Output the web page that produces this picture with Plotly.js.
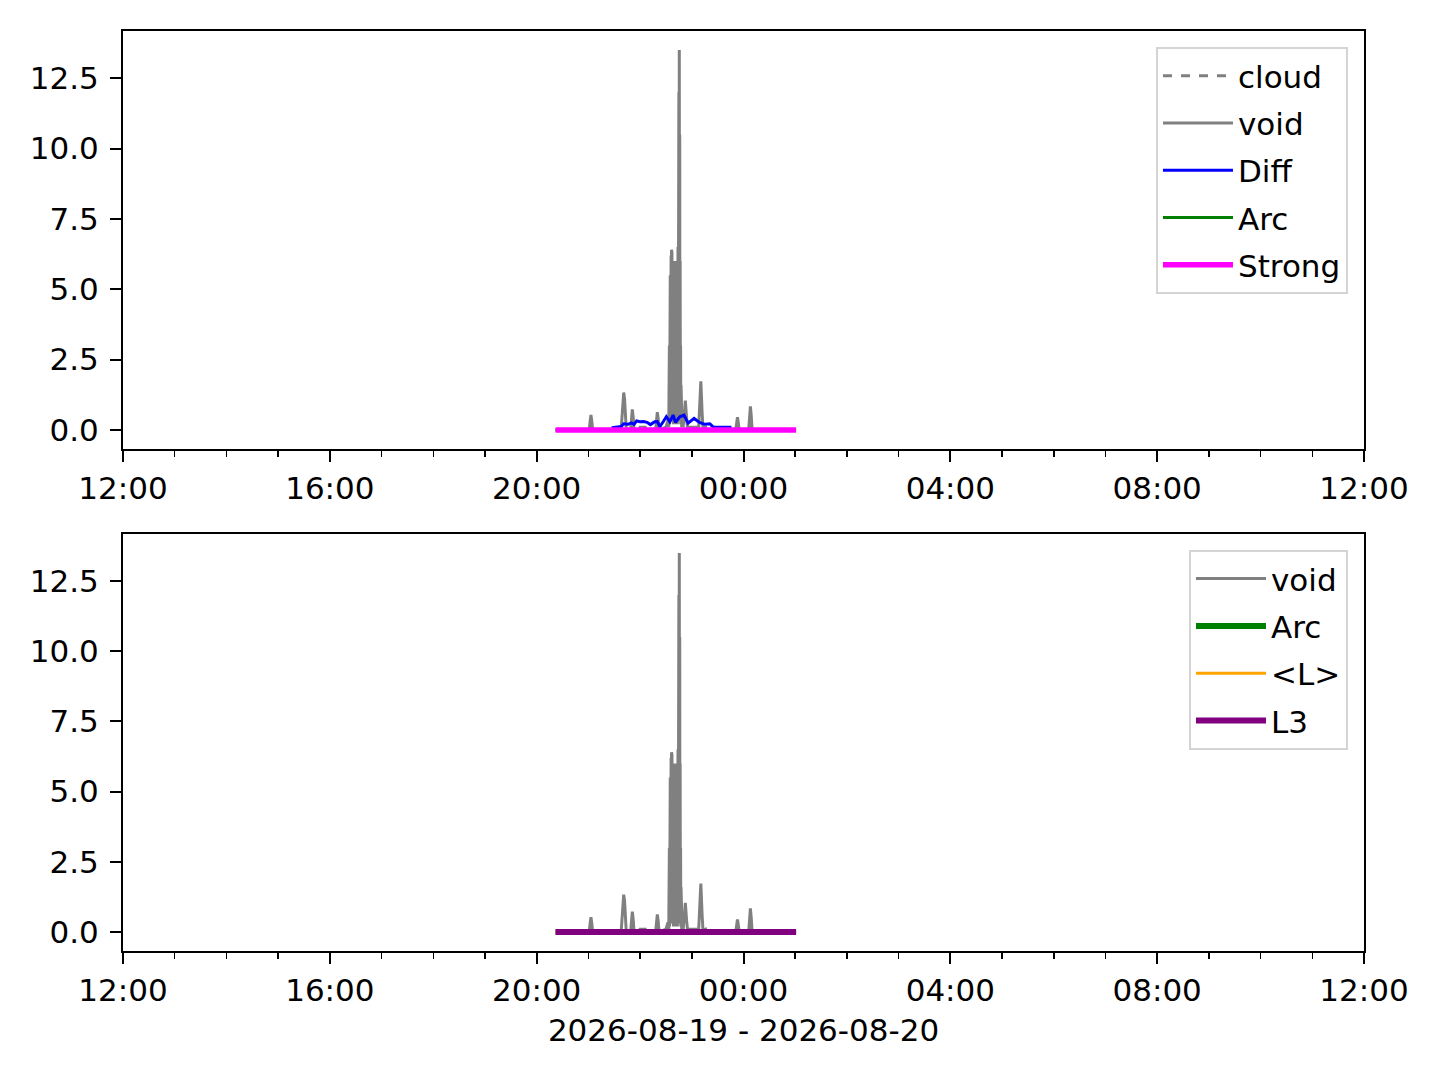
<!DOCTYPE html>
<html>
<head>
<meta charset="utf-8">
<script src="https://cdn.plot.ly/plotly-3.0.1.min.js"></script>
<style>html,body{margin:0;padding:0;background:#fff;}#chart{width:1440px;height:1080px;}</style>
</head>
<body>
<div id="chart"></div>
<script>
// ---- data ----
const spanTimes = ["2026-08-19 20:22", "2026-08-20 01:01"];
const cloudValues = [0, 0];
const arcValues = [0, 0];
const strongValues = [0, 0];
const meanLValues = [0, 0];
const l3Values = [0, 0];

const voidTimes = [
  "2026-08-19 20:22","2026-08-19 21:01","2026-08-19 21:02","2026-08-19 21:03","2026-08-19 21:04","2026-08-19 21:05",
  "2026-08-19 21:38","2026-08-19 21:39","2026-08-19 21:40","2026-08-19 21:41","2026-08-19 21:42","2026-08-19 21:43","2026-08-19 21:44",
  "2026-08-19 21:49","2026-08-19 21:50","2026-08-19 21:51","2026-08-19 21:52","2026-08-19 21:53",
  "2026-08-19 21:59","2026-08-19 22:00","2026-08-19 22:06","2026-08-19 22:07",
  "2026-08-19 22:18","2026-08-19 22:19","2026-08-19 22:20","2026-08-19 22:21","2026-08-19 22:22",
  "2026-08-19 22:26","2026-08-19 22:30","2026-08-19 22:32",
  "2026-08-19 22:33:00","2026-08-19 22:33:15","2026-08-19 22:33:30","2026-08-19 22:33:45",
  "2026-08-19 22:34:00","2026-08-19 22:34:15","2026-08-19 22:34:30","2026-08-19 22:34:45",
  "2026-08-19 22:35:00","2026-08-19 22:35:15","2026-08-19 22:35:30","2026-08-19 22:35:45",
  "2026-08-19 22:36:00","2026-08-19 22:36:15","2026-08-19 22:36:30","2026-08-19 22:36:45",
  "2026-08-19 22:37:00","2026-08-19 22:37:15","2026-08-19 22:37:30","2026-08-19 22:37:45",
  "2026-08-19 22:38:00","2026-08-19 22:38:15","2026-08-19 22:38:30","2026-08-19 22:38:45",
  "2026-08-19 22:39:00","2026-08-19 22:39:15","2026-08-19 22:39:30","2026-08-19 22:39:45",
  "2026-08-19 22:40:00","2026-08-19 22:40:15","2026-08-19 22:40:30","2026-08-19 22:40:45",
  "2026-08-19 22:41:00","2026-08-19 22:41:15","2026-08-19 22:41:30","2026-08-19 22:41:45",
  "2026-08-19 22:42:00","2026-08-19 22:42:15","2026-08-19 22:42:30","2026-08-19 22:42:45",
  "2026-08-19 22:43:00","2026-08-19 22:43:15","2026-08-19 22:43:30","2026-08-19 22:43:45",
  "2026-08-19 22:44:00","2026-08-19 22:44:15","2026-08-19 22:44:30","2026-08-19 22:44:45",
  "2026-08-19 22:45:00","2026-08-19 22:45:15","2026-08-19 22:45:30","2026-08-19 22:45:45",
  "2026-08-19 22:46:00","2026-08-19 22:46:15","2026-08-19 22:46:30","2026-08-19 22:46:45",
  "2026-08-19 22:47:00","2026-08-19 22:47:15","2026-08-19 22:47:30","2026-08-19 22:47:45",
  "2026-08-19 22:48:00","2026-08-19 22:48:15","2026-08-19 22:48:30",
  "2026-08-19 22:50","2026-08-19 22:51","2026-08-19 22:52:30","2026-08-19 22:54","2026-08-19 22:55",
  "2026-08-19 23:08","2026-08-19 23:09","2026-08-19 23:10:30","2026-08-19 23:12","2026-08-19 23:13",
  "2026-08-19 23:16","2026-08-19 23:17",
  "2026-08-19 23:51","2026-08-19 23:52","2026-08-19 23:53","2026-08-19 23:54","2026-08-19 23:55",
  "2026-08-20 00:06","2026-08-20 00:07","2026-08-20 00:08","2026-08-20 00:09","2026-08-20 00:10",
  "2026-08-20 01:01"
];
const voidValues = [
  0, 0, 0.3, 0.53, 0.3, 0,
  0, 0.4, 1.1, 1.33, 1.1, 0.3, 0,
  0, 0.45, 0.73, 0.45, 0,
  0, 0.1, 0.1, 0,
  0, 0.4, 0.63, 0.4, 0,
  0.05, 0.1, 0.3,
  0.3, 0.1, 1.2, 0.1,
  3.0, 0.2, 4.5, 0.3,
  5.5, 0.3, 6.0, 0.4,
  6.2, 0.4, 6.4, 0.4,
  6.3, 0.3, 5.8, 0.3,
  5.0, 0.3, 3.0, 0.2,
  1.5, 0.2, 4.0, 0.3,
  5.6, 0.3, 6.0, 0.3,
  5.9, 0.3, 5.6, 0.3,
  4.8, 0.2, 2.5, 0.2,
  0.8, 0.2, 4.0, 0.3,
  6.5, 0.4, 9.0, 0.5,
  12.0, 0.6, 13.5, 0.5,
  10.5, 0.4, 6.0, 0.3,
  3.0, 0.2, 1.6, 0.2,
  1.0, 0.1, 0.3,
  0.1, 0.4, 1.04, 0.4, 0.1,
  0.1, 0.6, 1.73, 0.6, 0.05,
  0.1, 0,
  0, 0.25, 0.45, 0.25, 0,
  0, 0.5, 0.84, 0.5, 0,
  0
];

const diffTimes = [
  "2026-08-19 21:27","2026-08-19 21:35","2026-08-19 21:38","2026-08-19 21:41","2026-08-19 21:46",
  "2026-08-19 21:50","2026-08-19 21:53","2026-08-19 21:56","2026-08-19 22:00","2026-08-19 22:04",
  "2026-08-19 22:08","2026-08-19 22:12","2026-08-19 22:17","2026-08-19 22:20","2026-08-19 22:23",
  "2026-08-19 22:27","2026-08-19 22:30:30","2026-08-19 22:34:30","2026-08-19 22:38:20","2026-08-19 22:41",
  "2026-08-19 22:46","2026-08-19 22:51","2026-08-19 22:55:40","2026-08-19 23:02:40","2026-08-19 23:09",
  "2026-08-19 23:15","2026-08-19 23:21","2026-08-19 23:25","2026-08-19 23:35","2026-08-19 23:46"
];
const diffValues = [
  0.08, 0.1, 0.12, 0.22, 0.2,
  0.25, 0.2, 0.32, 0.29, 0.3,
  0.27, 0.19, 0.29, 0.3, 0.12,
  0.3, 0.47, 0.29, 0.53, 0.27,
  0.47, 0.53, 0.24, 0.41, 0.27,
  0.2, 0.22, 0.1, 0.1, 0.1
];

const xRange = ["2026-08-19 12:00", "2026-08-20 12:00"];
const yRange = [-0.675, 14.175];
const xTitle = "2026-08-19 - 2026-08-20";

// ---- styling ----
const FONT = "DejaVu Sans";
const GRAY = "#808080";

function xaxisDef(anchor, withTitle) {
  const ax = {
    type: "date", range: xRange, anchor: anchor,
    tick0: "2026-08-19 00:00", dtick: 4 * 3600000, tickformat: "%H:%M",
    ticks: "outside", ticklen: 11, tickwidth: 2, tickcolor: "#000",
    showline: true, linecolor: "#000", linewidth: 2, mirror: true,
    showgrid: false, zeroline: false,
    tickfont: {family: FONT, size: 31, color: "#000"},
    minor: {dtick: 3600000, ticks: "outside", ticklen: 6, tickwidth: 1.5, tickcolor: "#000", showgrid: false}
  };
  if (withTitle) {
    ax.title = {text: xTitle, font: {family: FONT, size: 31, color: "#000"}, standoff: 12};
  }
  return ax;
}
function yaxisDef(anchor, domain) {
  return {
    range: yRange, anchor: anchor, domain: domain,
    tick0: 0, dtick: 2.5, tickformat: ".1f",
    ticks: "outside", ticklen: 11, tickwidth: 2, tickcolor: "#000",
    ticklabelstandoff: 5,
    showline: true, linecolor: "#000", linewidth: 2, mirror: true,
    showgrid: false, zeroline: false,
    tickfont: {family: FONT, size: 31, color: "#000"}
  };
}

function tr(x, y, name, color, width, axis, legend, dash) {
  return {
    x: x, y: y, name: name, mode: "lines",
    line: {color: color, width: width, dash: dash || "solid"},
    xaxis: "x" + axis, yaxis: "y" + axis, legend: legend,
    legendgroup: legend + "_" + name
  };
}

const traces = [
  tr(spanTimes, cloudValues, "cloud", GRAY, 3, "", "legend", "dash"),
  tr(voidTimes, voidValues, "void", GRAY, 3, "", "legend"),
  tr(diffTimes, diffValues, "Diff", "#0000ff", 3, "", "legend"),
  tr(spanTimes, arcValues, "Arc", "#008000", 3, "", "legend"),
  tr(spanTimes, strongValues, "Strong", "#ff00ff", 5.5, "", "legend"),

  tr(voidTimes, voidValues, "void", GRAY, 3, "2", "legend2"),
  tr(spanTimes, arcValues, "Arc", "#008000", 6, "2", "legend2"),
  tr(spanTimes, meanLValues, "<L>", "#ffa500", 3, "2", "legend2"),
  tr(spanTimes, l3Values, "L3", "#800080", 6, "2", "legend2")
];

const legendBase = {
  xref: "paper", yref: "paper", xanchor: "right", yanchor: "top",
  bgcolor: "rgba(255,255,255,0.8)", bordercolor: "#d4d4d4", borderwidth: 2,
  font: {family: FONT, size: 31, color: "#000"}, itemwidth: 70,
  traceorder: "grouped", tracegroupgap: 4
};

const layout = {
  width: 1440, height: 1080,
  margin: {l: 123, r: 76, t: 31, b: 129},
  paper_bgcolor: "#fff", plot_bgcolor: "#fff",
  font: {family: FONT, size: 31, color: "#000"},
  showlegend: true,
  xaxis: xaxisDef("y", false),
  yaxis: yaxisDef("x", [0.5457, 1]),
  xaxis2: xaxisDef("y2", true),
  yaxis2: yaxisDef("x2", [0, 0.4533]),
  legend: Object.assign({}, legendBase, {x: 0.9871, y: 0.9826}),
  legend2: Object.assign({}, legendBase, {x: 0.9871, y: 0.4359})
};

Plotly.newPlot("chart", traces, layout, {displayModeBar: false, staticPlot: true});
</script>
</body>
</html>
